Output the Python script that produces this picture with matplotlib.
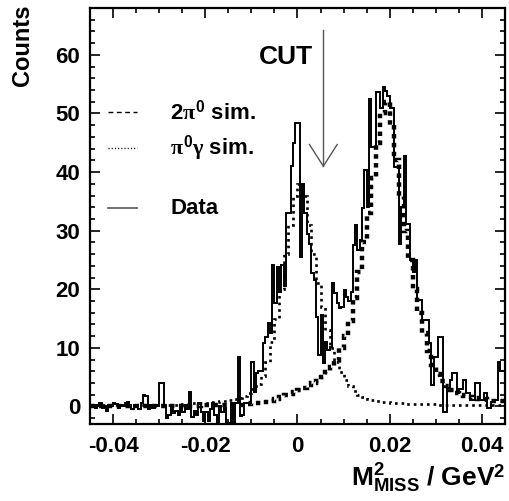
import numpy as np
import matplotlib
matplotlib.use("Agg")
import matplotlib.pyplot as plt
from matplotlib.ticker import MultipleLocator

plt.rcParams['font.family'] = ['Liberation Sans', 'DejaVu Sans']
plt.rcParams['font.weight'] = 'bold'
plt.rcParams['mathtext.fontset'] = 'custom'
plt.rcParams['mathtext.rm'] = 'Liberation Sans:bold'
plt.rcParams['mathtext.bf'] = 'Liberation Sans:bold'
plt.rcParams['mathtext.it'] = 'Liberation Serif'

# missing mass squared range, GeV^2
x_lo, x_hi = -0.045, 0.045

# measured counts (background subtracted), 0.0005 GeV^2 bins
data_counts = [
    0, 0.3, -0.2, 0.2, 0.5, -0.3, 0, -0.8, 0.3, 0,
    0.5, 0.4, -0.2, 0.2, 0, 0.5, 0.8, 0.2, -0.5, 0.3,
    0, -0.5, 0.5, 2.0, 1.8, -0.5, 0.2, -0.3, 0.3, 0,
    4.0, 4.0, 0.3, -2.0, -1.5, -0.5, -1.2, -0.8, -1.5, -0.5,
    -1.0, 0.2, -0.5, 2.5, -1.8, -0.8, -1.5, 0.5, -1.0, -2.5,
    -1.0, -2.5, -0.5, 0.5, -1.5, -2.8, 0.0, -1.0, -0.3, -2.8,
    -2.9, 0.5, -2.8, 0.6, 8.4, -1.7, -1.5, 0.6, 0.6, 0.6,
    7.6, 2.5, 5.7, 6.0, 6.0, 10.8, 11.9, 14.2, 12.5, 24.1,
    17.6, 23.8, 19.6, 24.1, 20.5, 33, 33, 41, 44.9, 48.3,
    48.3, 25.5, 38, 33, 29.5, 27.8, 22.7, 21.5, 15.3, 8.8,
    15.6, 7.4, 11, 9.6, 10.1, 21, 19.3, 17.6, 16.8, 17,
    19.8, 18.7, 18, 19.6, 27.5, 30.9, 26.7, 28.4, 33.8, 40.3,
    34, 52.5, 44.3, 44.3, 53.6, 53.6, 51, 54.5, 53.8, 53,
    51, 51, 40.8, 40.8, 27.8, 34, 42.8, 31.2, 31.2, 25,
    23, 25, 18.1, 18.1, 14.7, 14.7, 14.7, 10.8, 3.7, 8.5,
    8.5, 11.9, 11.9, -0.9, -0.9, 3.1, 4.5, 5.7, 5.7, 2.3,
    3, 3, 4.5, 2.3, 2.3, 1.1, 1.1, 4, 4, 1.1,
    1.1, 2.3, -0.3, -0.3, 0.8, 1.1, 1.1, 7.6, 6, 6,
]

# simulated 2pi0 background, 0.001 GeV^2 bins
sim_2pi0 = [
    0.1, 0.1, 0.1, 0.1, 0.1, 0.1, 0.1, 0.1, 0.1, 0.1,
    0.1, 0.1, 0.1, 0.1, 0.1, 0.1, 0.1, 0.1, 0.1, 0.1,
    0.1, 0.1, 0.1, 0.1, 0.2, 0.2, 0.2, 0.2, 0.2, 0.2,
    0.2, 0.2, 0.3, 0.3, 0.4, 0.5, 0.6, 0.7, 0.8, 1.0,
    1.3, 1.6, 1.9, 2.2, 2.5, 2.8, 3.2, 3.6, 4.0, 4.4,
    5.0, 5.8, 6.8, 8.0, 10.0, 12.0, 14.5, 18.5, 23, 28,
    33, 39, 45, 50, 52, 48, 42, 36, 30, 25,
    20, 16, 12.5, 9.5, 7, 5.5, 4.3, 3.4, 2.8, 2.3,
    2.0, 1.8, 1.6, 1.4, 1.3, 1.2, 1.1, 1.0, 1.0, 0.9,
]

# simulated pi0 gamma signal, 0.001 GeV^2 bins
sim_pi0g = [
    0.2, 0.2, 0.2, 0.2, 0.2, 0.2, 0.2, 0.2, 0.2, 0.2,
    0.2, 0.2, 0.2, 0.2, 0.2, 0.2, 0.2, 0.3, 0.3, 0.3,
    0.4, 0.4, 0.5, 0.5, 0.6, 0.6, 0.7, 0.8, 0.9, 1.0,
    1.1, 1.3, 1.5, 1.8, 2.3, 2.9, 3.8, 5.2, 7.5, 11,
    15, 20, 26, 31, 36, 38, 36, 31, 26, 21,
    17, 13, 10, 7.5, 5.8, 4.5, 3.4, 2.6, 2.0, 1.6,
    1.3, 1.1, 0.9, 0.8, 0.7, 0.6, 0.5, 0.5, 0.4, 0.4,
    0.4, 0.4, 0.4, 0.4, 0.4, 0.3, 0.3, 0.3, 0.3, 0.3,
    0.3, 0.3, 0.3, 0.3, 0.3, 0.3, 0.3, 0.3, 0.3, 0.3,
]

cut_x = 0.0056

data_edges = np.linspace(x_lo, x_hi, len(data_counts) + 1)
sim_edges = np.linspace(x_lo, x_hi, len(sim_2pi0) + 1)

fig = plt.figure(figsize=(5.09, 5.01), dpi=100)
ax = fig.add_axes([0.1768, 0.1537, 0.8153, 0.8303])

ax.stairs(sim_2pi0, sim_edges, color='black', lw=3.2, ls=(0, (1.0, 1.0)))
ax.stairs(sim_pi0g, sim_edges, color='black', lw=1.9, ls=(0, (1.0, 1.5)))
ax.stairs(data_counts, data_edges, color='black', lw=1.4)

ax.set_xlim(x_lo, x_hi)
ax.set_ylim(-3, 68)

ax.xaxis.set_major_locator(MultipleLocator(0.02))
ax.xaxis.set_minor_locator(MultipleLocator(0.005))
ax.yaxis.set_major_locator(MultipleLocator(10))
ax.yaxis.set_minor_locator(MultipleLocator(2))
ax.xaxis.set_major_formatter(lambda v, p: '0' if abs(v) < 1e-9 else f'{v:g}')
ax.tick_params(which='both', direction='in', top=True, right=True, width=1.2,
               labelsize=16)
ax.tick_params(which='major', length=7)
ax.tick_params(which='minor', length=3.6)
ax.tick_params(axis='x', pad=9)
ax.tick_params(axis='y', pad=7)
for s in ax.spines.values():
    s.set_linewidth(1.6)

# cut arrow
ax.plot([cut_x, cut_x], [64.2, 41.0], color='#555555', lw=1.0)
ax.plot([cut_x - 0.003, cut_x, cut_x + 0.003], [44.7, 41.0, 44.7],
        color='#555555', lw=1.0)
ax.text(cut_x - 0.0022, 59.6, 'CUT', ha='right', va='center', fontsize=19,
        fontweight='bold')

# legend drawn by hand
tr = ax.transAxes
ax.plot([0.043, 0.113], [0.75, 0.75], transform=tr, color='black', lw=1.0,
        ls=(0, (3.5, 2.5)))
ax.plot([0.043, 0.113], [0.663, 0.663], transform=tr, color='black', lw=1.0,
        ls=(0, (0.8, 1.5)))
ax.plot([0.043, 0.113], [0.519, 0.519], transform=tr, color='#555555', lw=1.2)
ax.text(0.193, 0.75, r'2$\pi^{0}$ sim.', transform=tr, va='center', fontsize=16,
        fontweight='bold')
ax.text(0.193, 0.663, r'$\pi^{0}\gamma$ sim.', transform=tr, va='center',
        fontsize=16, fontweight='bold')
ax.text(0.193, 0.519, 'Data', transform=tr, va='center', fontsize=16,
        fontweight='bold')

fig.text(22 / 509, 1 - 4 / 501, 'Counts', rotation=90, ha='center', va='top',
         fontsize=17, fontweight='bold')
fig.text(505 / 509, 6 / 501, r'$\mathrm{M}^{2}_{\mathrm{MISS}}$ / GeV$^{2}$',
         ha='right', va='bottom', fontsize=19, fontweight='bold')

fig.savefig('out.png', dpi=100)
